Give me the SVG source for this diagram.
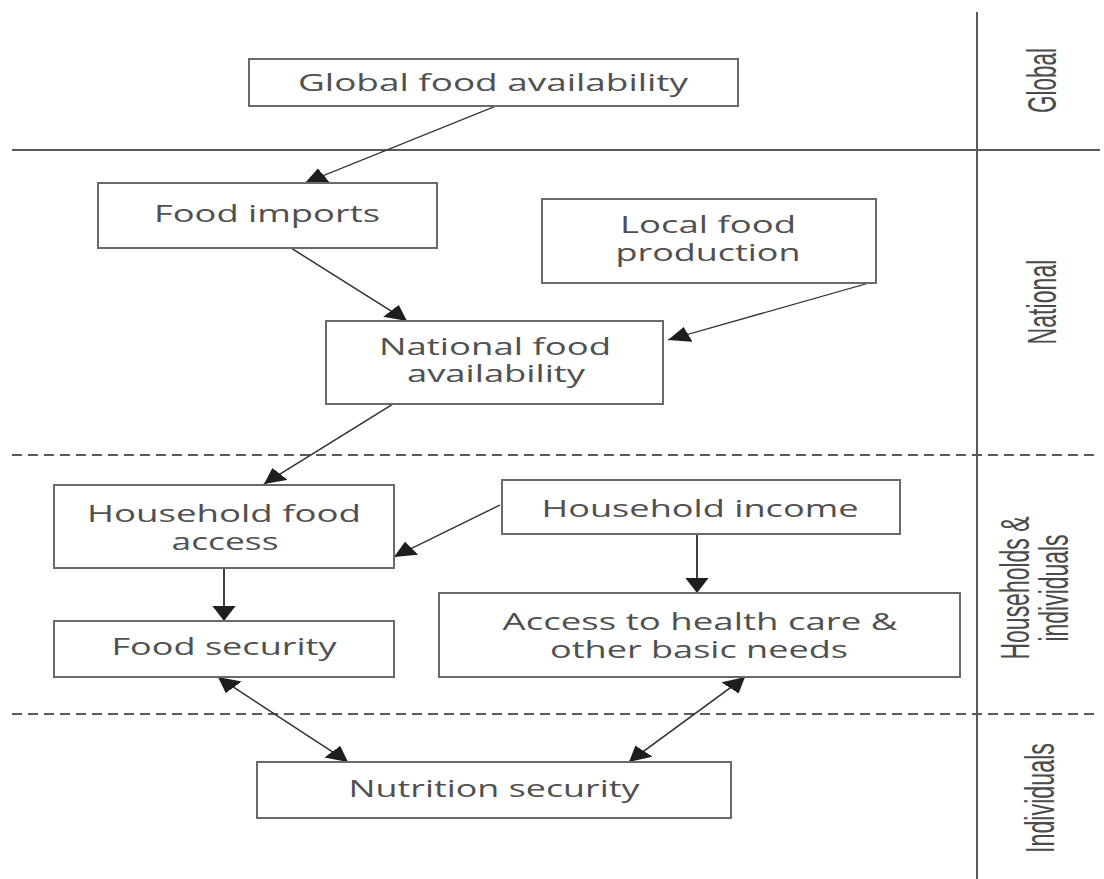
<svg xmlns="http://www.w3.org/2000/svg" width="1104" height="879" viewBox="0 0 1104 879">
<defs>
<style>
.box{fill:#fff;stroke:#6a6a6a;stroke-width:2}
.t{font-family:"Open Sans","Liberation Sans",sans-serif;font-size:23px;fill:#505050;text-anchor:middle}
.lab{font-family:"Liberation Sans","Open Sans",sans-serif;font-size:28px;fill:#4a4a4a;text-anchor:middle}
.sep{stroke:#5a5a5a;stroke-width:2;fill:none}
.dash{stroke:#5a5a5a;stroke-width:2;stroke-dasharray:10 6;fill:none}
.con{stroke:#333;stroke-width:1.3;fill:none;marker-end:url(#ah)}
.con2{stroke:#333;stroke-width:1.3;fill:none;marker-end:url(#ah);marker-start:url(#ah)}
</style>
<marker id="ah" markerUnits="userSpaceOnUse" markerWidth="16" markerHeight="17" refX="15" refY="8" orient="auto-start-reverse" viewBox="0 0 16 17">
<path d="M0,0 L15,8 L0,16 z" fill="#1e1e1e"/>
</marker>
</defs>
<rect width="1104" height="879" fill="#fff"/>
<g id="separators">
<line class="sep" x1="12" y1="150" x2="1100" y2="150"/>
<line class="sep" x1="977" y1="12" x2="977" y2="879"/>
<line class="dash" x1="12" y1="455" x2="1100" y2="455"/>
<line class="dash" x1="12" y1="714" x2="1100" y2="714"/>
</g>
<g id="level-labels">
<text class="lab" transform="translate(1056,80.5) scale(1.45,1) rotate(-90)" textLength="65" lengthAdjust="spacingAndGlyphs">Global</text>
<text class="lab" transform="translate(1056,302) scale(1.45,1) rotate(-90)" textLength="85" lengthAdjust="spacingAndGlyphs">National</text>
<text class="lab" transform="translate(1029,588) scale(1.45,1) rotate(-90)" textLength="143" lengthAdjust="spacingAndGlyphs">Households &amp;</text>
<text class="lab" transform="translate(1068,588) scale(1.45,1) rotate(-90)" textLength="107" lengthAdjust="spacingAndGlyphs">individuals</text>
<text class="lab" transform="translate(1054,798) scale(1.45,1) rotate(-90)" textLength="110" lengthAdjust="spacingAndGlyphs">Individuals</text>
</g>
<g id="connectors" transform="scale(1.45,1)">
<line class="con" x1="342.07" y1="106" x2="210.34" y2="183"/>
<line class="con" x1="200.69" y1="248" x2="280.69" y2="321"/>
<line class="con" x1="599.31" y1="283" x2="460.69" y2="340"/>
<line class="con" x1="271.03" y1="404" x2="182.07" y2="484"/>
<line class="con" x1="344.83" y1="505" x2="271.72" y2="557"/>
<line class="con" x1="154.48" y1="568" x2="154.48" y2="621"/>
<line class="con" x1="480.69" y1="534" x2="480.69" y2="593"/>
<line class="con2" x1="150.34" y1="677" x2="240" y2="762"/>
<line class="con2" x1="513.79" y1="677" x2="433.79" y2="762"/>
</g>
<g id="global-food-availability">
<rect class="box" x="249" y="59" width="489" height="47"/>
<text class="t" x="493" y="91" textLength="390" lengthAdjust="spacingAndGlyphs">Global food availability</text>
</g>
<g id="food-imports">
<rect class="box" x="98" y="183" width="339" height="65"/>
<text class="t" x="267" y="222" textLength="226" lengthAdjust="spacingAndGlyphs">Food imports</text>
</g>
<g id="local-food-production">
<rect class="box" x="542" y="199" width="334" height="84"/>
<text class="t" x="708" y="233" textLength="176" lengthAdjust="spacingAndGlyphs">Local food</text>
<text class="t" x="708" y="261" textLength="185" lengthAdjust="spacingAndGlyphs">production</text>
</g>
<g id="national-food-availability">
<rect class="box" x="326" y="321" width="337" height="83"/>
<text class="t" x="495" y="355" textLength="232" lengthAdjust="spacingAndGlyphs">National food</text>
<text class="t" x="496" y="382" textLength="178" lengthAdjust="spacingAndGlyphs">availability</text>
</g>
<g id="household-food-access">
<rect class="box" x="54" y="485" width="340" height="83"/>
<text class="t" x="224" y="522" textLength="274" lengthAdjust="spacingAndGlyphs">Household food</text>
<text class="t" x="225" y="550" textLength="107" lengthAdjust="spacingAndGlyphs">access</text>
</g>
<g id="household-income">
<rect class="box" x="502" y="480" width="398" height="54"/>
<text class="t" x="700" y="517" textLength="317" lengthAdjust="spacingAndGlyphs">Household income</text>
</g>
<g id="food-security">
<rect class="box" x="54" y="621" width="340" height="56"/>
<text class="t" x="224" y="655" textLength="225" lengthAdjust="spacingAndGlyphs">Food security</text>
</g>
<g id="access-health-care">
<rect class="box" x="439" y="593" width="521" height="84"/>
<text class="t" x="700" y="630" textLength="395" lengthAdjust="spacingAndGlyphs">Access to health care &amp;</text>
<text class="t" x="699" y="658" textLength="298" lengthAdjust="spacingAndGlyphs">other basic needs</text>
</g>
<g id="nutrition-security">
<rect class="box" x="257" y="762" width="474" height="56"/>
<text class="t" x="494" y="797" textLength="291" lengthAdjust="spacingAndGlyphs">Nutrition security</text>
</g>
</svg>
